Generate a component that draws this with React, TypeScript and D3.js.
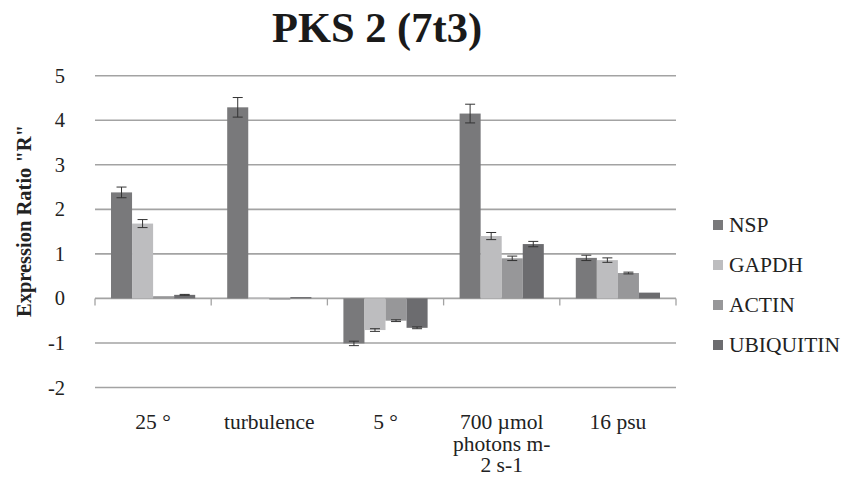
import React from "react";
import * as d3 from "d3";

const categories = ["25 °", "turbulence", "5 °", "700 µmol photons m- 2 s-1", "16 psu"];
const categoryLines = [["25 °"], ["turbulence"], ["5 °"], ["700 µmol", "photons m-", "2 s-1"], ["16 psu"]];
const seriesNames = ["NSP", "GAPDH", "ACTIN", "UBIQUITIN"];
const nspValues = [2.38, 4.29, -1.01, 4.15, 0.91];
const nspErrors = [0.12, 0.22, 0.05, 0.21, 0.06];
const gapdhValues = [1.68, 0.02, -0.71, 1.4, 0.86];
const gapdhErrors = [0.09, 0.0, 0.03, 0.08, 0.05];
const actinValues = [0.05, 0.0, -0.5, 0.9, 0.57];
const actinErrors = [0.0, 0.0, 0.02, 0.05, 0.02];
const ubiqValues = [0.08, 0.03, -0.66, 1.22, 0.13];
const ubiqErrors = [0.01, 0.0, 0.02, 0.06, 0.0];
const yTicks = [-2, -1, 0, 1, 2, 3, 4, 5];
const colors = ["#79797b", "#bdbdbf", "#979799", "#6c6c6f"];

const seriesValues = [nspValues, gapdhValues, actinValues, ubiqValues];
const seriesErrors = [nspErrors, gapdhErrors, actinErrors, ubiqErrors];

export default function App() {
  const W = 854, H = 489;
  const x0 = 95, x1 = 676;
  const y = d3.scaleLinear().domain([-2, 5]).range([387.5, 75.7]);
  const xBand = d3.scaleBand().domain(categories).range([x0, x1]).paddingInner(0).paddingOuter(0);
  const inner = d3.scaleBand().domain(seriesNames).range([0, xBand.bandwidth()]).paddingOuter(0.76).paddingInner(0);
  const font = "'Liberation Serif', 'Times New Roman', serif";
  return (
    <svg width={W} height={H} style={{ position: "absolute", left: 0, top: 0, background: "#fff" }}>
      <text x={377} y={42} textAnchor="middle" fontFamily={font} fontWeight="bold" fontSize={42.5} fill="#1a1a1a">PKS 2 (7t3)</text>
      {yTicks.map((t) => (
        <g key={t}>
          <line x1={x0} x2={x1} y1={y(t)} y2={y(t)} stroke="#a3a3a3" strokeWidth={1.6} />
          <text x={65} y={y(t) + 7} textAnchor="end" fontFamily={font} fontSize={20.5} fill="#222">{t}</text>
        </g>
      ))}
      {d3.range(categories.length + 1).map((i) => {
        const xx = x0 + i * xBand.bandwidth();
        return <line key={i} x1={xx} x2={xx} y1={y(0)} y2={y(0) + 7} stroke="#a3a3a3" strokeWidth={1.3} />;
      })}
      {seriesNames.map((s, si) => (
        <g key={s}>
          {categories.map((c, ci) => {
            const v = seriesValues[si][ci];
            const e = seriesErrors[si][ci];
            const bx = (xBand(c) as number) + (inner(s) as number);
            const bw = inner.bandwidth();
            const top = Math.min(y(v), y(0));
            const h = Math.abs(y(v) - y(0));
            const cx = bx + bw / 2;
            return (
              <g key={c}>
                <rect x={bx} y={top} width={bw} height={Math.max(h, 1.2)} fill={colors[si]} />
                {e > 0 && (
                  <g stroke="#333" strokeWidth={1}>
                    <line x1={cx} x2={cx} y1={y(v + e)} y2={y(v - e)} />
                    <line x1={cx - 5} x2={cx + 5} y1={y(v + e)} y2={y(v + e)} />
                    <line x1={cx - 5} x2={cx + 5} y1={y(v - e)} y2={y(v - e)} />
                  </g>
                )}
              </g>
            );
          })}
        </g>
      ))}
      {categories.map((c, ci) => (
        <text key={c} textAnchor="middle" fontFamily={font} fontSize={21.5} fill="#222">
          {categoryLines[ci].map((ln, li) => (
            <tspan key={li} x={(xBand(c) as number) + xBand.bandwidth() / 2} y={429 + li * 21.5}>{ln}</tspan>
          ))}
        </text>
      ))}
      <text transform={`translate(31,221) rotate(-90)`} textAnchor="middle" fontFamily={font} fontWeight="bold" fontSize={20.5} fill="#222">Expression Ratio "R"</text>
      {seriesNames.map((s, i) => (
        <g key={s}>
          <rect x={713} y={220 + i * 40} width={10} height={10} fill={colors[i]} />
          <text x={729} y={232 + i * 40} fontFamily={font} fontSize={21.5} fill="#222">{s}</text>
        </g>
      ))}
    </svg>
  );
}
